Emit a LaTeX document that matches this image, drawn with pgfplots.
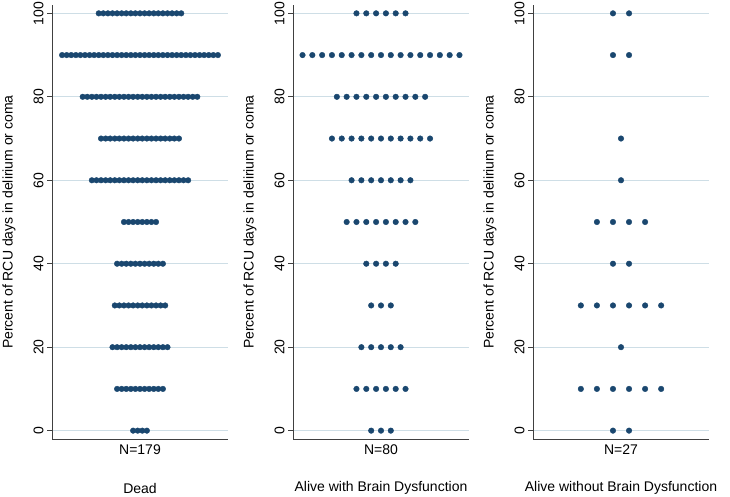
\documentclass[border=0pt]{standalone}
\usepackage{fontspec}
\setmainfont{Liberation Sans}
\usepackage{pgfplots}
\pgfplotsset{compat=1.18}
\definecolor{stnavy}{RGB}{26,71,111}
\definecolor{stgrid}{RGB}{206,222,230}

\pgfplotsset{
  dotpanel/.style={
    anchor=south west,
    width=176pt, height=434pt, scale only axis,
    ymin=-2, ymax=102,
    ytick={0,20,...,100},
    axis lines=left, axis line style={-, color=black!75, line width=0.9pt},
    ymajorgrids, grid style={color=stgrid, line width=1pt},
    tick align=outside,
    y tick style={color=black!75, line width=0.9pt},
    major tick length=5pt,
    xtick={0}, x tick style={draw=none},
    font=\fontsize{14}{16}\selectfont,
    /pgf/number format/assume math mode=true,
    yticklabel style={rotate=90, anchor=south},
    xticklabel style={yshift=3pt},
    ylabel={Percent of RCU days in delirium or coma},
    ylabel style={at={(axis description cs:-0.244,0.5)}, anchor=center},
    xlabel style={at={(axis description cs:0.5,-0.113)}, anchor=center},
    clip=false,
  },
  dots/.style={only marks, mark=*, mark size=2.8pt, color=stnavy,
    mark options={draw=stnavy, fill=stnavy}},
}

\begin{document}
\begin{tikzpicture}
% panel 1: Dead
\begin{axis}[dotpanel, at={(52pt,58pt)}, xmin=-19.2, xmax=19.2,
  xticklabels={N=179}, xlabel={Dead}]
\addplot[dots] coordinates {
(-9,100) (-8,100) (-7,100) (-6,100) (-5,100) (-4,100) (-3,100) (-2,100) (-1,100) (0,100) (1,100) (2,100) (3,100) (4,100) (5,100) (6,100) (7,100) (8,100) (9,100)
(-17,90) (-16,90) (-15,90) (-14,90) (-13,90) (-12,90) (-11,90) (-10,90) (-9,90) (-8,90) (-7,90) (-6,90) (-5,90) (-4,90) (-3,90) (-2,90) (-1,90) (0,90) (1,90) (2,90) (3,90) (4,90) (5,90) (6,90) (7,90) (8,90) (9,90) (10,90) (11,90) (12,90) (13,90) (14,90) (15,90) (16,90) (17,90)
(-12.5,80) (-11.5,80) (-10.5,80) (-9.5,80) (-8.5,80) (-7.5,80) (-6.5,80) (-5.5,80) (-4.5,80) (-3.5,80) (-2.5,80) (-1.5,80) (-0.5,80) (0.5,80) (1.5,80) (2.5,80) (3.5,80) (4.5,80) (5.5,80) (6.5,80) (7.5,80) (8.5,80) (9.5,80) (10.5,80) (11.5,80) (12.5,80)
(-8.5,70) (-7.5,70) (-6.5,70) (-5.5,70) (-4.5,70) (-3.5,70) (-2.5,70) (-1.5,70) (-0.5,70) (0.5,70) (1.5,70) (2.5,70) (3.5,70) (4.5,70) (5.5,70) (6.5,70) (7.5,70) (8.5,70)
(-10.5,60) (-9.5,60) (-8.5,60) (-7.5,60) (-6.5,60) (-5.5,60) (-4.5,60) (-3.5,60) (-2.5,60) (-1.5,60) (-0.5,60) (0.5,60) (1.5,60) (2.5,60) (3.5,60) (4.5,60) (5.5,60) (6.5,60) (7.5,60) (8.5,60) (9.5,60) (10.5,60)
(-3.5,50) (-2.5,50) (-1.5,50) (-0.5,50) (0.5,50) (1.5,50) (2.5,50) (3.5,50)
(-5,40) (-4,40) (-3,40) (-2,40) (-1,40) (0,40) (1,40) (2,40) (3,40) (4,40) (5,40)
(-5.5,30) (-4.5,30) (-3.5,30) (-2.5,30) (-1.5,30) (-0.5,30) (0.5,30) (1.5,30) (2.5,30) (3.5,30) (4.5,30) (5.5,30)
(-6,20) (-5,20) (-4,20) (-3,20) (-2,20) (-1,20) (0,20) (1,20) (2,20) (3,20) (4,20) (5,20) (6,20)
(-5,10) (-4,10) (-3,10) (-2,10) (-1,10) (0,10) (1,10) (2,10) (3,10) (4,10) (5,10)
(-1.5,0) (-0.5,0) (0.5,0) (1.5,0)
};
\end{axis}
% panel 2: Alive with Brain Dysfunction
\begin{axis}[dotpanel, at={(293pt,58pt)}, xmin=-8.97, xmax=8.97,
  xticklabels={N=80}, xlabel={Alive with Brain Dysfunction}]
\addplot[dots] coordinates {
(-2.5,100) (-1.5,100) (-0.5,100) (0.5,100) (1.5,100) (2.5,100)
(-8,90) (-7,90) (-6,90) (-5,90) (-4,90) (-3,90) (-2,90) (-1,90) (0,90) (1,90) (2,90) (3,90) (4,90) (5,90) (6,90) (7,90) (8,90)
(-4.5,80) (-3.5,80) (-2.5,80) (-1.5,80) (-0.5,80) (0.5,80) (1.5,80) (2.5,80) (3.5,80) (4.5,80)
(-5,70) (-4,70) (-3,70) (-2,70) (-1,70) (0,70) (1,70) (2,70) (3,70) (4,70) (5,70)
(-3,60) (-2,60) (-1,60) (0,60) (1,60) (2,60) (3,60)
(-3.5,50) (-2.5,50) (-1.5,50) (-0.5,50) (0.5,50) (1.5,50) (2.5,50) (3.5,50)
(-1.5,40) (-0.5,40) (0.5,40) (1.5,40)
(-1,30) (0,30) (1,30)
(-2,20) (-1,20) (0,20) (1,20) (2,20)
(-2.5,10) (-1.5,10) (-0.5,10) (0.5,10) (1.5,10) (2.5,10)
(-1,0) (0,0) (1,0)
};
\end{axis}
% panel 3: Alive without Brain Dysfunction
\begin{axis}[dotpanel, at={(533pt,58pt)}, xmin=-5.48, xmax=5.48,
  xticklabels={N=27}, xlabel={Alive without Brain Dysfunction}]
\addplot[dots] coordinates {
(-0.5,100) (0.5,100)
(-0.5,90) (0.5,90)
(0,70)
(0,60)
(-1.5,50) (-0.5,50) (0.5,50) (1.5,50)
(-0.5,40) (0.5,40)
(-2.5,30) (-1.5,30) (-0.5,30) (0.5,30) (1.5,30) (2.5,30)
(0,20)
(-2.5,10) (-1.5,10) (-0.5,10) (0.5,10) (1.5,10) (2.5,10)
(-0.5,0) (0.5,0)
};
\end{axis}
\pgfresetboundingbox
\path[use as bounding box] (0,0) rectangle (730pt,497pt);
\end{tikzpicture}
\end{document}
